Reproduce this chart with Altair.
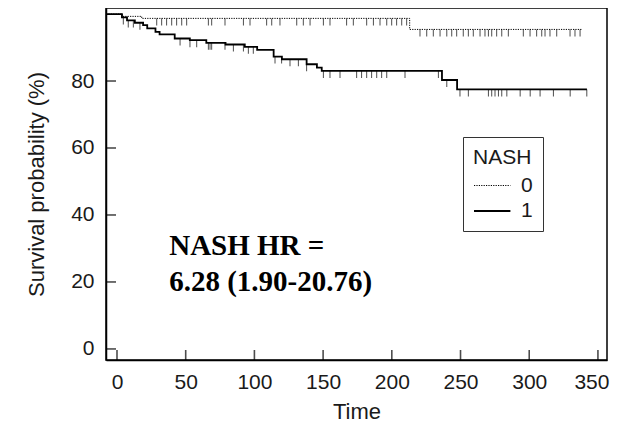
import altair as alt
import pandas as pd

# NASH = 0 (dotted) step curve
t0 = [-8, 4, 18, 213, 338]
s0 = [100, 99.3, 98.7, 95.4, 95.4]
# NASH = 1 (solid) step curve
t1 = [-8, 3.6, 7.3, 13, 19, 22, 28, 31, 42, 53, 65, 79, 93, 102, 114, 120,
      138, 145.5, 149, 236.5, 247.5, 342]
s1 = [100, 99.0, 98.1, 97.4, 96.7, 95.7, 94.7, 93.9, 92.7, 92.2, 91.4, 90.9,
      90.2, 89.3, 87.3, 86.5, 85.0, 84.0, 83.0, 80.3, 77.5, 77.5]
# censoring times
c0 = [28.9, 32.5, 36.1, 39.8, 43.4, 47.1, 50.7, 66.5, 68.9, 78.6, 92, 96.8,
      108.9, 112.6, 118.6, 130.8, 135.6, 140.5, 150.2, 155, 167.1, 172, 181.7,
      186.6, 191.4, 196.3, 199.9, 203.5, 207.2, 210.8, 220.5, 225.4, 230.2,
      235.1, 240, 243.6, 247.2, 252, 255.7, 259.3, 264.2, 267.8, 270.3, 272.7,
      276.3, 280, 284.8, 295.7, 300.6, 305.4, 309.1, 311.5, 315.1, 320, 329.7,
      333.3, 337]
c1 = [4.6, 8.2, 11.9, 16.7, 45.9, 53.1, 58, 66.5, 67.7, 68.9, 78.6, 84.7, 92,
      95.6, 99.2, 115, 119.8, 125.9, 132, 138, 150.2, 155, 162.3, 174.4, 178,
      181.7, 185.3, 189, 192.6, 196.3, 209.6, 233.9, 240, 249.6, 255.7, 270.3,
      272.7, 275.1, 277.6, 280, 283.7, 293.4, 300.7, 307.9, 317.6, 329.8, 341.9]

x_ticks = [0, 50, 100, 150, 200, 250, 300, 350]
y_ticks = [0, 20, 40, 60, 80]
annot = ["NASH HR =", "6.28 (1.90-20.76)"]
annot_x = [38, 38]
annot_y = [30.6, 20.0]

XDOM = [-8, 356.6]
YDOM = [-3.3, 101.8]


def surv_at(ts, ss, t):
    v = ss[0]
    for a, b in zip(ts, ss):
        if a <= t:
            v = b
    return v


curves = pd.DataFrame(
    [{"time": t, "surv": s, "NASH": "0"} for t, s in zip(t0, s0)]
    + [{"time": t, "surv": s, "NASH": "1"} for t, s in zip(t1, s1)]
)
cens = pd.DataFrame(
    [{"time": t, "surv": surv_at(t0, s0, t), "NASH": "0"} for t in c0]
    + [{"time": t, "surv": surv_at(t1, s1, t), "NASH": "1"} for t in c1]
)

xs = alt.Scale(domain=XDOM, nice=False, zero=False)
ys = alt.Scale(domain=YDOM, nice=False, zero=False)

leg = alt.Legend(title="NASH", labelExpr="datum.label + '\u00a0\u00a0\u00a0'")

lines = alt.Chart(curves).mark_line(interpolate="step-after", color="black").encode(
    x=alt.X("time:Q", scale=xs,
            axis=alt.Axis(title="Time", values=x_ticks, tickSize=0, labelPadding=11,
                          titlePadding=9, grid=False,
                          labelFlush=10, labelFlushOffset=11)),
    y=alt.Y("surv:Q", scale=ys,
            axis=alt.Axis(title="Survival probability (%)", values=y_ticks, tickSize=0,
                          labelPadding=12, titlePadding=22, grid=False)),
    strokeDash=alt.StrokeDash("NASH:N",
                              scale=alt.Scale(domain=["0", "1"], range=[[1.2, 1.2], [1, 0]]),
                              legend=leg),
    strokeWidth=alt.StrokeWidth("NASH:N",
                                scale=alt.Scale(domain=["0", "1"], range=[1.0, 1.8]),
                                legend=leg),
)

cmarks = alt.Chart(cens).mark_tick(orient="vertical", color="black", size=7,
                                   thickness=1, yOffset=3.5).encode(
    x=alt.X("time:Q", scale=xs),
    y=alt.Y("surv:Q", scale=ys),
)

xt = alt.Chart(pd.DataFrame({"v": x_ticks, "b": [YDOM[0]] * len(x_ticks)})).mark_tick(
    orient="vertical", color="black", size=10, thickness=1.6, yOffset=-5).encode(
    x=alt.X("v:Q", scale=xs), y=alt.Y("b:Q", scale=ys))

yt = alt.Chart(pd.DataFrame({"v": y_ticks, "b": [XDOM[0]] * len(y_ticks)})).mark_tick(
    orient="horizontal", color="black", size=10, thickness=1.6, xOffset=5).encode(
    y=alt.Y("v:Q", scale=ys), x=alt.X("b:Q", scale=xs))

txt = alt.Chart(pd.DataFrame({"label": annot, "x": annot_x, "y": annot_y})).mark_text(
    font="Liberation Serif", fontWeight="bold", fontSize=29, align="left",
    baseline="middle", color="black").encode(
    x=alt.X("x:Q", scale=xs), y=alt.Y("y:Q", scale=ys), text="label:N")

chart = alt.layer(lines, cmarks, xt, yt, txt).properties(
    width=501, height=352,
    autosize=alt.AutoSizeParams(type="none"),
    padding={"left": 98, "top": 0, "right": 4, "bottom": 64},
).configure_view(stroke="black", strokeWidth=1.5).configure_axis(
    domainColor="black", domainWidth=1.5, labelColor="#1a1a1a", titleColor="#1a1a1a",
    labelFont="Liberation Sans", titleFont="Liberation Sans",
    labelFontSize=21, titleFontSize=22, titleFontWeight="normal",
).configure_legend(
    orient="none", legendX=357, legendY=129, strokeColor="#333", padding=10,
    titleFont="Liberation Sans", labelFont="Liberation Sans",
    titleFontSize=21, labelFontSize=21, titleFontWeight="normal",
    titleColor="#1a1a1a", labelColor="#1a1a1a", symbolType="M-1,0H1.8",
    symbolSize=676, symbolStrokeColor="black", rowPadding=1, labelOffset=20,
    titlePadding=4,
)

chart.save("out.html", embed_options={"renderer": "svg", "actions": False})
